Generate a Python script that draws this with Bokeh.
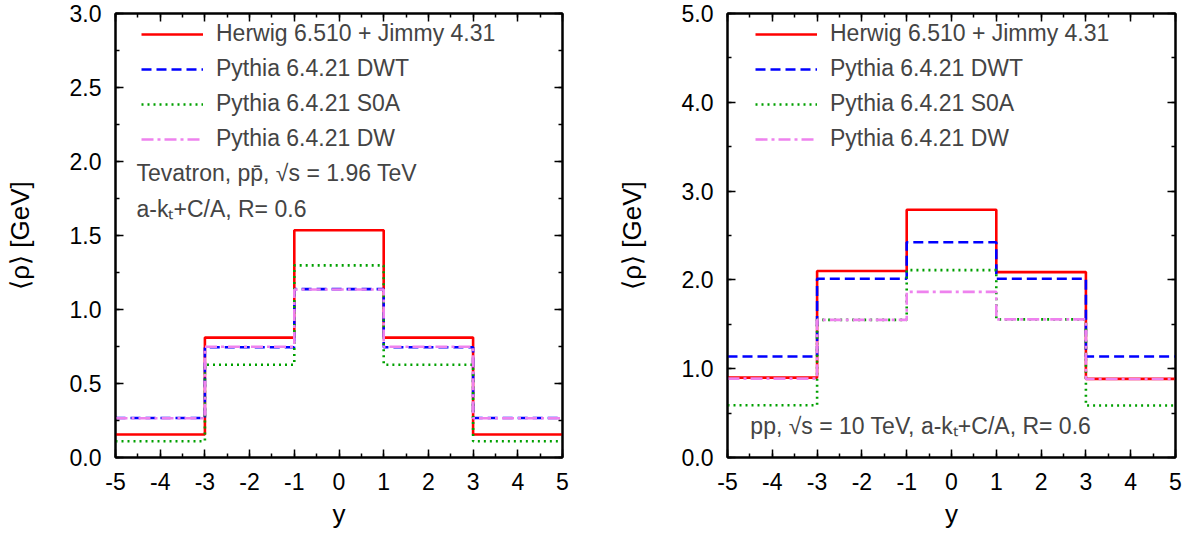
from bokeh.plotting import figure
from bokeh.layouts import row
from bokeh.models import (LinearAxis, SingleIntervalTicker, NumeralTickFormatter,
                          CustomJSTickFormatter, Legend, LegendItem, Label, Range1d)
from bokeh.embed import file_html
from bokeh.resources import INLINE

# ---- data ----
edges = [-5, -3, -1, 1, 3, 5]
series_names = ["Herwig 6.510 + Jimmy 4.31", "Pythia 6.4.21 DWT",
                "Pythia 6.4.21 S0A", "Pythia 6.4.21 DW"]

tev_herwig = [0.155, 0.81, 1.535, 0.81, 0.155]
tev_dwt = [0.267, 0.745, 1.138, 0.745, 0.267]
tev_s0a = [0.11, 0.627, 1.298, 0.627, 0.11]
tev_dw = [0.265, 0.748, 1.135, 0.748, 0.265]

lhc_herwig = [0.90, 2.10, 2.79, 2.088, 0.885]
lhc_dwt = [1.138, 2.013, 2.424, 2.013, 1.138]
lhc_s0a = [0.589, 1.55, 2.11, 1.555, 0.586]
lhc_dw = [0.888, 1.55, 1.865, 1.555, 0.884]

FONT = "Liberation Sans"
styles = [
    dict(line_color="#ff0000", line_width=2.6, line_dash="solid"),
    dict(line_color="#0000ff", line_width=2.6, line_dash="10 5"),
    dict(line_color="#00a000", line_width=2.6, line_dash="2 4"),
    dict(line_color="#ee82ee", line_width=2.6, line_dash="12 4 3 4"),
]


def make_panel(series, ymax, ystep, width, bl, br, legend_x):
    p = figure(width=width, height=534, output_backend="svg", toolbar_location=None,
               x_range=Range1d(-5, 5), y_range=Range1d(0, ymax),
               min_border_left=bl, min_border_right=br, min_border_top=13,
               min_border_bottom=77)
    p.grid.visible = False
    p.outline_line_color = "black"
    p.outline_line_width = 2
    p.background_fill_color = "white"
    p.border_fill_color = "white"

    xt = SingleIntervalTicker(interval=1, num_minor_ticks=2)
    yt = SingleIntervalTicker(interval=ystep, num_minor_ticks=2)
    p.xaxis.ticker = xt
    p.yaxis.ticker = yt
    p.xaxis.formatter = NumeralTickFormatter(format="0")
    p.yaxis.formatter = NumeralTickFormatter(format="0.0")

    for ax in (p.xaxis[0], p.yaxis[0]):
        ax.major_tick_in = 8
        ax.major_tick_out = 0
        ax.minor_tick_in = 4
        ax.minor_tick_out = 0
        ax.axis_line_width = 2
        ax.major_tick_line_width = 1.5
        ax.minor_tick_line_width = 1.5
        ax.major_label_text_font = FONT
        ax.major_label_text_font_size = "23px"
        ax.major_label_text_color = "black"
        ax.axis_label_text_font = FONT
        ax.axis_label_text_font_size = "26px"
        ax.axis_label_text_font_style = "normal"
        ax.axis_label_text_color = "black"
    p.xaxis.major_label_standoff = 15
    p.yaxis.major_label_standoff = 14
    p.xaxis.axis_label = "y"
    p.xaxis.axis_label_standoff = 6
    p.yaxis.axis_label = "\u27e8\u03c1\u27e9 [GeV]"
    p.yaxis.axis_label_standoff = 32

    for loc, tk in (("above", xt), ("right", yt)):
        ax = LinearAxis(ticker=tk, formatter=CustomJSTickFormatter(code="return ''"),
                        major_label_text_font_size="1px",
                        major_label_standoff=0, major_tick_in=8, major_tick_out=0,
                        minor_tick_in=4, minor_tick_out=0, axis_line_width=2,
                        major_tick_line_width=1.5, minor_tick_line_width=1.5)
        p.add_layout(ax, loc)

    items = []
    for name, vals, st in zip(series_names, series, styles):
        r = p.step(x=edges, y=list(vals) + [vals[-1]], mode="after", **st)
        items.append(LegendItem(label=name, renderers=[r]))

    leg = Legend(items=items, location=(legend_x, 305), orientation="vertical",
                 border_line_color=None, background_fill_alpha=0,
                 label_text_font=FONT, label_text_font_size="23px",
                 glyph_width=62, glyph_height=26, label_height=26,
                 label_standoff=13, spacing=8, padding=0, margin=0)
    p.add_layout(leg, "center")
    return p


p1 = make_panel([tev_herwig, tev_dwt, tev_s0a, tev_dw], 3.0, 0.5, 610, 115, 48, 26)
p1.add_layout(Label(x=-4.53, y=1.92, text="Tevatron, pp\u0304, \u221as = 1.96 TeV",
                    text_font=FONT, text_font_size="23px", text_baseline="middle"))
p1.add_layout(Label(x=-4.53, y=1.68, text="a-k\u209c+C/A, R= 0.6",
                    text_font=FONT, text_font_size="23px", text_baseline="middle"))

p2 = make_panel([lhc_herwig, lhc_dwt, lhc_s0a, lhc_dw], 5.0, 1.0, 590, 117, 25, 28)
p2.add_layout(Label(x=-4.49, y=0.36, text="pp, \u221as = 10 TeV, a-k\u209c+C/A, R= 0.6",
                    text_font=FONT, text_font_size="23px", text_baseline="middle"))

layout = row(p1, p2)
open("out.html", "w").write(file_html(layout, INLINE))
